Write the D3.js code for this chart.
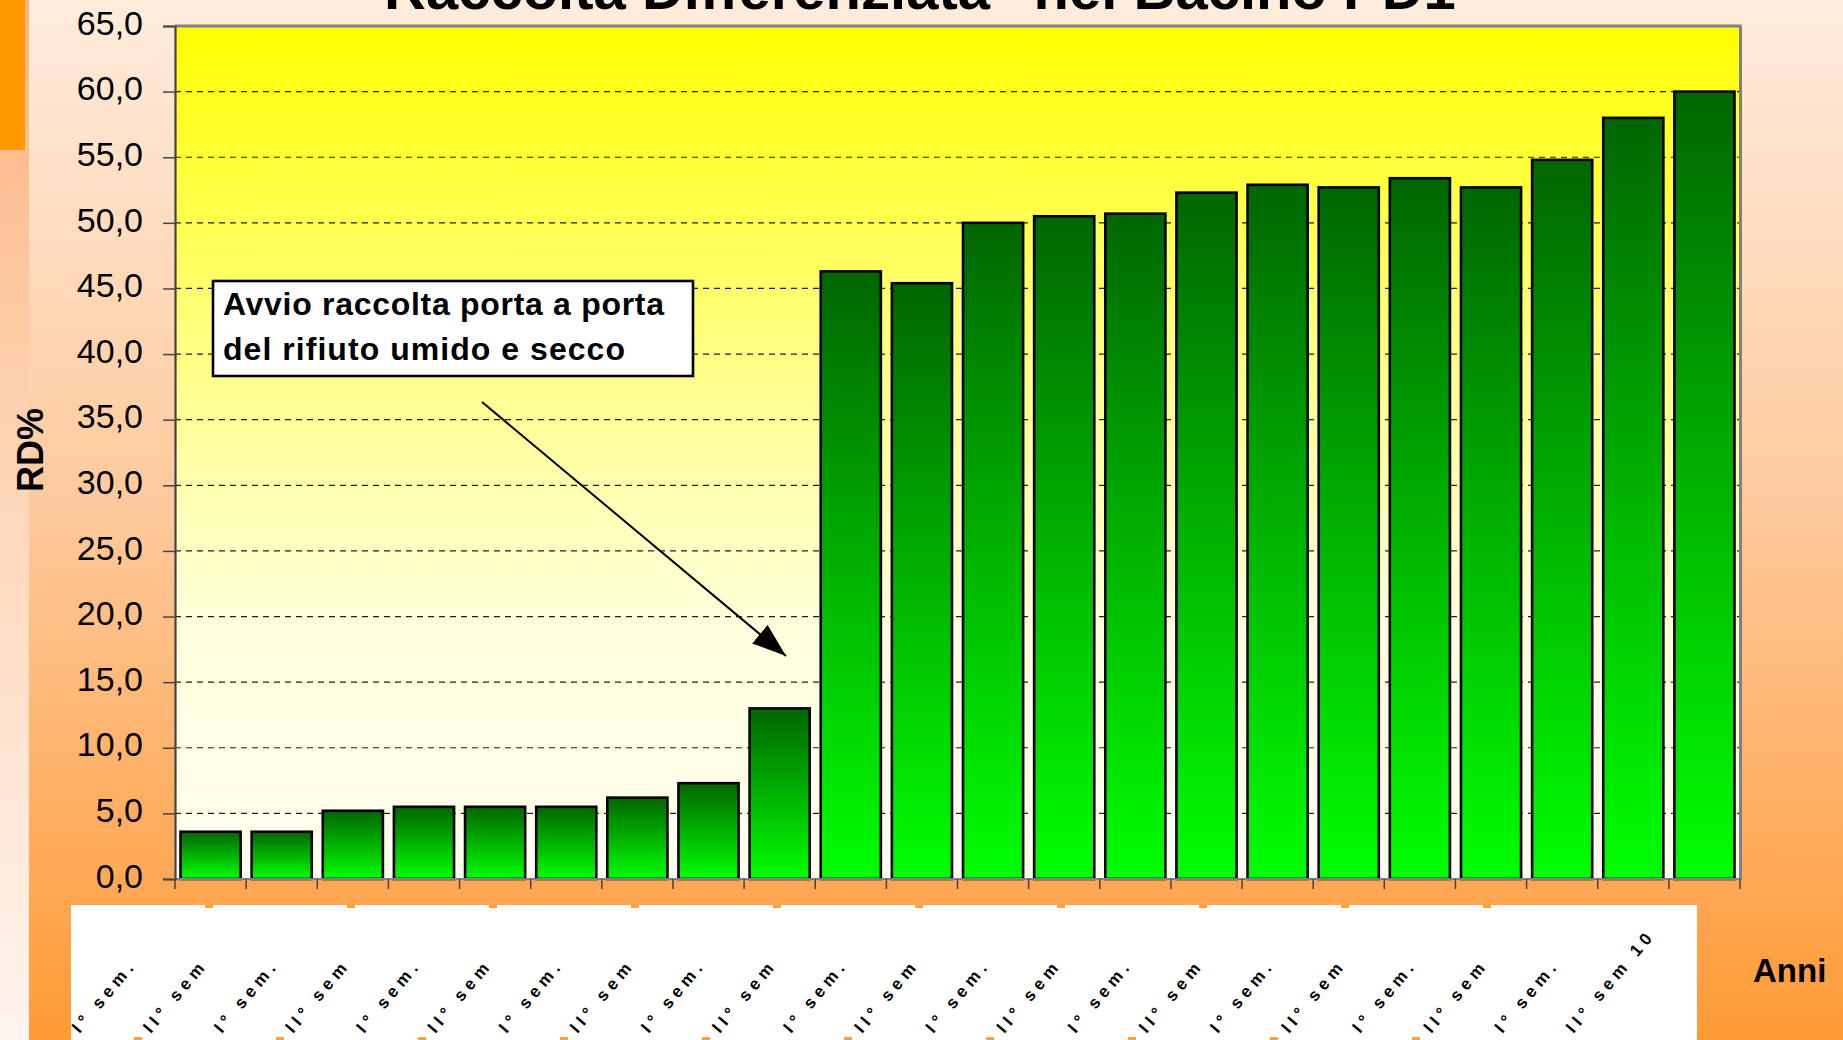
<!DOCTYPE html>
<html><head><meta charset="utf-8">
<script src="https://cdn.jsdelivr.net/npm/d3@7"></script>
<style>html,body{margin:0;padding:0;overflow:hidden;background:#fff}</style>
</head><body>
<svg id="c" width="1843" height="1040"></svg>
<script>
// ---------- data ----------
const semesters = ["I° sem", "II° sem"];
const years = [2000, 2001, 2002, 2003, 2004, 2005, 2006, 2007, 2008, 2009, 2010];
const categories = years.flatMap(yr => semesters.map(s => s + " " + yr));
const values = [3.6, 3.6, 5.2, 5.5, 5.5, 5.5, 6.2, 7.3, 13.0, 46.3, 45.4, 50.0,
                50.5, 50.7, 52.3, 52.9, 52.7, 53.4, 52.7, 54.8, 58.0, 60.0];
const tickLabels = ["I° sem.", "II° sem", "I° sem.", "II° sem", "I° sem.", "II° sem",
                    "I° sem.", "II° sem", "I° sem.", "II° sem", "I° sem.", "II° sem",
                    "I° sem.", "II° sem", "I° sem.", "II° sem", "I° sem.", "II° sem",
                    "I° sem.", "II° sem", "I° sem.", "II° sem  10"];
const yTicks = [0, 5, 10, 15, 20, 25, 30, 35, 40, 45, 50, 55, 60, 65];
const titleText = 'Raccolta Differenziata "nel Bacino PD1"';
const annotationLines = ["Avvio raccolta porta a porta", "del rifiuto umido e secco"];
const yAxisTitle = "RD%";
const xAxisTitle = "Anni";

// ---------- layout ----------
const W = 1843, H = 1040;
const FONT = "'Liberation Sans', Arial, Helvetica, sans-serif";
const m = {left: 175, right: 1740, top: 26, bottom: 879};
const svg = d3.select("#c");
const defs = svg.append("defs");

function vGrad(id, stops, units) {
  const g = defs.append("linearGradient").attr("id", id)
    .attr("x1", 0).attr("y1", 0).attr("x2", 0).attr("y2", 1);
  if (units) g.attr("gradientUnits", units);
  stops.forEach(([o, c]) => g.append("stop").attr("offset", o).attr("stop-color", c));
}
vGrad("bgGrad", [[0, "#FEECDC"], [0.5, "#FEC89A"], [1, "#FF9A35"]]);
vGrad("stripGrad", [[0, "#FDB27E"], [0.4, "#FDD2B0"], [1, "#FFF4EE"]]);
vGrad("plotGrad", [[0, "#FFFF00"], [0.35, "#FFFF7A"], [0.7, "#FFFFDC"], [1, "#FFFFF0"]]);
vGrad("barGrad", [[0, "#006600"], [1, "#00FF00"]]);

// background panels
svg.append("rect").attr("x", 0).attr("y", 0).attr("width", W).attr("height", H).attr("fill", "url(#bgGrad)");
svg.append("rect").attr("x", 0).attr("y", 0).attr("width", 29).attr("height", H).attr("fill", "url(#stripGrad)");
svg.append("rect").attr("x", 0).attr("y", 0).attr("width", 25).attr("height", 150).attr("fill", "#FF9900");

// white label area with small notches
svg.append("rect").attr("x", 71).attr("y", 905).attr("width", 1626).attr("height", 140).attr("fill", "#FFFFFF");
d3.range(10).forEach(k => {
  svg.append("rect").attr("x", 205 + 142 * k).attr("y", 905).attr("width", 8).attr("height", 3).attr("fill", "#FFA040");
  svg.append("rect").attr("x", 134 + 142 * k).attr("y", 1037).attr("width", 8).attr("height", 3).attr("fill", "#FFA040");
});

// scales
const x = d3.scaleBand().domain(categories).range([m.left, m.right]).padding(0);
const y = d3.scaleLinear().domain([0, 65]).range([m.bottom, m.top]);
const locale = d3.formatLocale({decimal: ",", thousands: ".", grouping: [3], currency: ["€", ""]});
const fmt = locale.format(".1f");

// plot area
svg.append("rect").attr("x", m.left).attr("y", m.top).attr("width", m.right - m.left)
  .attr("height", m.bottom - m.top).attr("fill", "url(#plotGrad)");

// gridlines
svg.append("g").selectAll("line").data(yTicks.filter(t => t > 0 && t < 65)).join("line")
  .attr("x1", m.left).attr("x2", m.right).attr("y1", d => y(d)).attr("y2", d => y(d))
  .attr("stroke", "#222").attr("stroke-width", 1.2).attr("stroke-dasharray", "6,5");

// bars
const bw = x.bandwidth() * 0.845;
svg.append("g").selectAll("rect").data(values).join("rect")
  .attr("x", (d, i) => x(categories[i]) + (x.bandwidth() - bw) / 2)
  .attr("y", d => y(d))
  .attr("width", bw)
  .attr("height", d => y(0) - y(d))
  .attr("fill", "url(#barGrad)")
  .attr("stroke", "#000").attr("stroke-width", 2.6);

// frame
svg.append("line").attr("x1", m.left).attr("x2", m.right + 1.5).attr("y1", m.top).attr("y2", m.top)
  .attr("stroke", "#808080").attr("stroke-width", 3);
svg.append("line").attr("x1", m.right + 0.5).attr("x2", m.right + 0.5).attr("y1", m.top).attr("y2", m.bottom)
  .attr("stroke", "#808080").attr("stroke-width", 3);
svg.append("line").attr("x1", m.left).attr("x2", m.right + 2).attr("y1", m.bottom).attr("y2", m.bottom)
  .attr("stroke", "#808080").attr("stroke-width", 2.2);

// y axis
const yAxis = svg.append("g").attr("transform", `translate(${m.left},0)`)
  .call(d3.axisLeft(y).tickValues(yTicks).tickSize(12).tickPadding(20).tickFormat(fmt));
yAxis.select(".domain").attr("stroke", "#444").attr("stroke-width", 2.2);
yAxis.selectAll(".tick line").attr("stroke", "#444").attr("stroke-width", 1.5);
yAxis.selectAll(".tick text").attr("font-family", FONT).attr("font-size", 34)
  .attr("fill", "#000").attr("dy", "0.24em");

// x axis ticks at category boundaries
const bounds = categories.map(c => x(c)).concat([m.right]);
svg.append("g").selectAll("line").data(bounds).join("line")
  .attr("x1", d => d).attr("x2", d => d).attr("y1", m.bottom).attr("y2", m.bottom + 10)
  .attr("stroke", "#444").attr("stroke-width", 1.5);

// x tick labels
svg.append("g").selectAll("text").data(tickLabels).join("text")
  .attr("transform", (d, i) => `translate(${x(categories[i]) + x.bandwidth() / 2 - 131},1034) rotate(-50)`)
  .attr("text-anchor", "start")
  .attr("font-family", FONT).attr("font-weight", "bold").attr("font-size", 17).attr("letter-spacing", 5)
  .attr("fill", "#000").text(d => d);

// title
svg.append("text").attr("x", 384).attr("y", 9)
  .attr("font-family", FONT).attr("font-weight", "bold").attr("font-size", 58)
  .attr("fill", "#000").text(titleText);

// axis titles
svg.append("text").attr("transform", "translate(43,450) rotate(-90)")
  .attr("text-anchor", "middle").attr("font-family", FONT).attr("font-weight", "bold")
  .attr("font-size", 36).attr("fill", "#000").text(yAxisTitle);
svg.append("text").attr("x", 1753).attr("y", 982)
  .attr("font-family", FONT).attr("font-weight", "bold").attr("font-size", 33)
  .attr("fill", "#000").text(xAxisTitle);

// annotation box
svg.append("rect").attr("x", 213).attr("y", 281).attr("width", 480).attr("height", 95)
  .attr("fill", "#fff").attr("stroke", "#000").attr("stroke-width", 2.6);
const lineLens = [441, 402];
annotationLines.forEach((t, i) => {
  svg.append("text").attr("x", 223).attr("y", 315 + i * 45)
    .attr("font-family", FONT).attr("font-weight", "bold").attr("font-size", 32)
    .attr("textLength", lineLens[i]).attr("lengthAdjust", "spacing")
    .attr("fill", "#000").text(t);
});

// arrow
defs.append("marker").attr("id", "arrowHead").attr("viewBox", "0 0 34 24")
  .attr("refX", 34).attr("refY", 12).attr("markerWidth", 34).attr("markerHeight", 24)
  .attr("markerUnits", "userSpaceOnUse").attr("orient", "auto")
  .append("path").attr("d", "M0,0 L34,12 L0,24 z").attr("fill", "#000");
svg.append("line").attr("x1", 482).attr("y1", 402).attr("x2", 786).attr("y2", 656)
  .attr("stroke", "#000").attr("stroke-width", 2).attr("marker-end", "url(#arrowHead)");
</script>
</body></html>
